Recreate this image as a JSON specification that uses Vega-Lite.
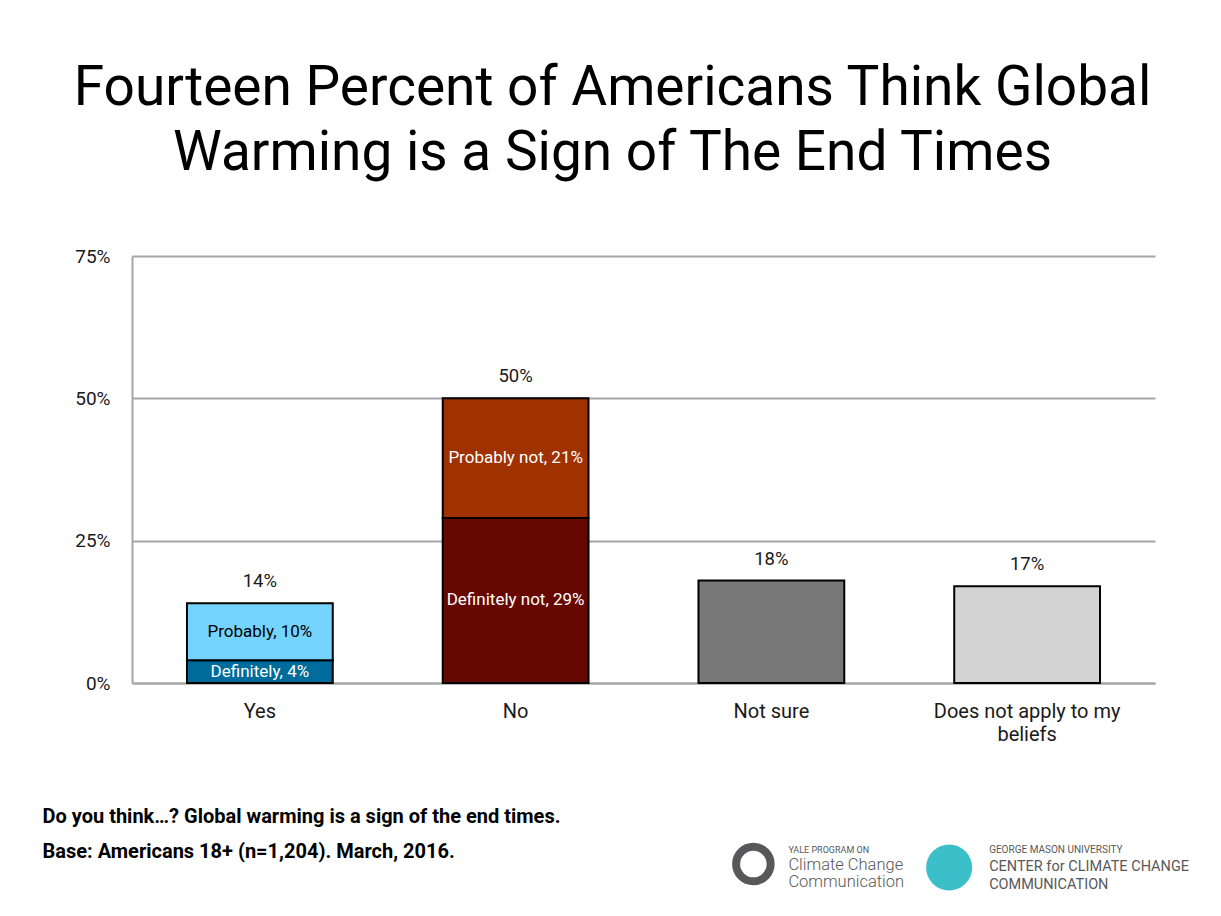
{
  "$schema": "https://vega.github.io/schema/vega-lite/v6.json",
  "width": 1023,
  "height": 427,
  "autosize": {"type": "none"},
  "padding": {"left": 132, "top": 256, "right": 66, "bottom": 233},
  "background": "white",
  "config": {"view": {"stroke": null}, "font": "Roboto"},
  "title": {
    "text": ["Fourteen Percent of Americans Think Global", "Warming is a Sign of The End Times"],
    "font": "Roboto",
    "fontSize": 55,
    "fontWeight": "normal",
    "color": "black",
    "anchor": "middle",
    "baseline": "bottom",
    "dx": -31,
    "lineHeight": 65,
    "offset": 10
  },
  "datasets": {
    "segments": [
      {"answer": "Yes", "segment": "Definitely", "rank": 1, "value": 4},
      {"answer": "Yes", "segment": "Probably", "rank": 2, "value": 10},
      {"answer": "No", "segment": "Definitely not", "rank": 1, "value": 29},
      {"answer": "No", "segment": "Probably not", "rank": 2, "value": 21},
      {"answer": "Not sure", "segment": "Not sure", "rank": 1, "value": 18},
      {"answer": "Does not apply to my beliefs", "segment": "Does not apply to my beliefs", "rank": 1, "value": 17}
    ]
  },
  "encoding": {
    "x": {
      "field": "answer",
      "type": "nominal",
      "sort": ["Yes", "No", "Not sure", "Does not apply to my beliefs"],
      "scale": {"paddingInner": 0.43, "paddingOuter": 0.215},
      "axis": {
        "title": ["Do you think…? Global warming is a sign of the end times.", "Base: Americans 18+ (n=1,204). March, 2016."],
        "titleFont": "Roboto",
        "titleFontSize": 20,
        "titleFontWeight": "bold",
        "titleColor": "black",
        "titleAnchor": "start",
        "titleAlign": "left",
        "titleX": -90,
        "titleY": 139,
        "titleBaseline": "alphabetic",
        "titleLineHeight": 35,
        "labelAngle": 0,
        "labelFont": "Roboto",
        "labelFontSize": 20,
        "labelColor": "#1a1a1a",
        "labelPadding": 18,
        "labelLineHeight": 23,
        "labelLimit": 0,
        "labelExpr": "datum.label == 'Does not apply to my beliefs' ? ['Does not apply to my', 'beliefs'] : datum.label",
        "domainColor": "#a6a6a6",
        "domainWidth": 2,
        "ticks": false,
        "grid": false
      }
    }
  },
  "layer": [
    {
      "data": {"name": "segments"},
      "transform": [
        {"stack": "value", "groupby": ["answer"], "sort": [{"field": "rank"}], "as": ["v0", "v1"]}
      ],
      "mark": {"type": "bar", "stroke": "black", "strokeWidth": 2},
      "encoding": {
        "y": {
          "field": "v1",
          "type": "quantitative",
          "scale": {"domain": [0, 75], "nice": false, "zero": true},
          "axis": {
            "title": null,
            "values": [0, 25, 50, 75],
            "labelExpr": "datum.value + '%'",
            "grid": true,
            "gridColor": "#a6a6a6",
            "gridWidth": 2,
            "domainColor": "#a6a6a6",
            "domainWidth": 2,
            "ticks": false,
            "labelFont": "Roboto",
            "labelFontSize": 19,
            "labelColor": "#1a1a1a",
            "labelPadding": 22
          }
        },
        "y2": {"field": "v0"},
        "color": {
          "field": "segment",
          "type": "nominal",
          "scale": {
            "domain": ["Definitely", "Probably", "Definitely not", "Probably not", "Not sure", "Does not apply to my beliefs"],
            "range": ["#006c9b", "#75d4fd", "#660800", "#a03100", "#787878", "#d3d3d3"]
          },
          "legend": null
        }
      }
    },
    {
      "data": {"name": "segments"},
      "transform": [
        {"filter": "datum.answer == 'Yes' || datum.answer == 'No'"},
        {"stack": "value", "groupby": ["answer"], "sort": [{"field": "rank"}], "as": ["v0", "v1"]},
        {"calculate": "(datum.v0 + datum.v1) / 2", "as": "mid"},
        {"calculate": "datum.segment + ', ' + datum.value + '%'", "as": "label"}
      ],
      "mark": {"type": "text", "font": "Roboto", "fontSize": 17, "baseline": "middle", "align": "center"},
      "encoding": {
        "y": {"field": "mid", "type": "quantitative"},
        "text": {"field": "label"},
        "color": {"condition": {"test": "datum.segment == 'Probably'", "value": "black"}, "value": "white"}
      }
    },
    {
      "data": {"name": "segments"},
      "transform": [
        {"aggregate": [{"op": "sum", "field": "value", "as": "total"}], "groupby": ["answer"]},
        {"calculate": "datum.total + '%'", "as": "totalLabel"}
      ],
      "mark": {"type": "text", "font": "Roboto", "fontSize": 18.5, "baseline": "middle", "align": "center", "dy": -22, "color": "#1a1a1a"},
      "encoding": {
        "y": {"field": "total", "type": "quantitative"},
        "text": {"field": "totalLabel"}
      }
    },
    {
      "data": {"values": [{"logo": "Yale"}]},
      "mark": {"type": "point", "shape": "circle", "filled": false, "size": 1195, "strokeWidth": 8, "stroke": "#58585a", "opacity": 1, "xOffset": -18},
      "encoding": {
        "x": {"datum": "Not sure", "type": "nominal"},
        "y": {"datum": -31.8, "type": "quantitative"}
      }
    },
    {
      "data": {"values": [{"logo": "GMU"}]},
      "mark": {"type": "point", "shape": "circle", "filled": true, "size": 2124, "color": "#3bbfc9", "opacity": 1, "xOffset": -78},
      "encoding": {
        "x": {"datum": "Does not apply to my beliefs", "type": "nominal"},
        "y": {"datum": -32.4, "type": "quantitative"}
      }
    },
    {
      "data": {"values": [{"line": "YALE PROGRAM ON"}]},
      "mark": {"type": "text", "font": "Roboto", "fontSize": 9, "align": "left", "baseline": "middle", "dx": 17, "color": "#58585a"},
      "encoding": {
        "x": {"datum": "Not sure", "type": "nominal"},
        "y": {"datum": -29.4, "type": "quantitative"},
        "text": {"field": "line"}
      }
    },
    {
      "data": {"values": [{"line": "Climate Change"}]},
      "mark": {"type": "text", "font": "Roboto", "fontSize": 16.5, "fontWeight": 300, "align": "left", "baseline": "middle", "dx": 17, "color": "#58585a"},
      "encoding": {
        "x": {"datum": "Not sure", "type": "nominal"},
        "y": {"datum": -32.0, "type": "quantitative"},
        "text": {"field": "line"}
      }
    },
    {
      "data": {"values": [{"line": "Communication"}]},
      "mark": {"type": "text", "font": "Roboto", "fontSize": 16.5, "fontWeight": 300, "align": "left", "baseline": "middle", "dx": 17, "color": "#58585a"},
      "encoding": {
        "x": {"datum": "Not sure", "type": "nominal"},
        "y": {"datum": -35.0, "type": "quantitative"},
        "text": {"field": "line"}
      }
    },
    {
      "data": {"values": [{"line": "GEORGE MASON UNIVERSITY"}]},
      "mark": {"type": "text", "font": "Roboto", "fontSize": 10, "align": "left", "baseline": "middle", "dx": -38, "color": "#58585a"},
      "encoding": {
        "x": {"datum": "Does not apply to my beliefs", "type": "nominal"},
        "y": {"datum": -29.4, "type": "quantitative"},
        "text": {"field": "line"}
      }
    },
    {
      "data": {"values": [{"line": "CENTER for CLIMATE CHANGE"}]},
      "mark": {"type": "text", "font": "Roboto", "fontSize": 14.5, "align": "left", "baseline": "middle", "dx": -38, "color": "#58585a"},
      "encoding": {
        "x": {"datum": "Does not apply to my beliefs", "type": "nominal"},
        "y": {"datum": -32.3, "type": "quantitative"},
        "text": {"field": "line"}
      }
    },
    {
      "data": {"values": [{"line": "COMMUNICATION"}]},
      "mark": {"type": "text", "font": "Roboto", "fontSize": 14.5, "align": "left", "baseline": "middle", "dx": -38, "color": "#58585a"},
      "encoding": {
        "x": {"datum": "Does not apply to my beliefs", "type": "nominal"},
        "y": {"datum": -35.5, "type": "quantitative"},
        "text": {"field": "line"}
      }
    }
  ]
}
